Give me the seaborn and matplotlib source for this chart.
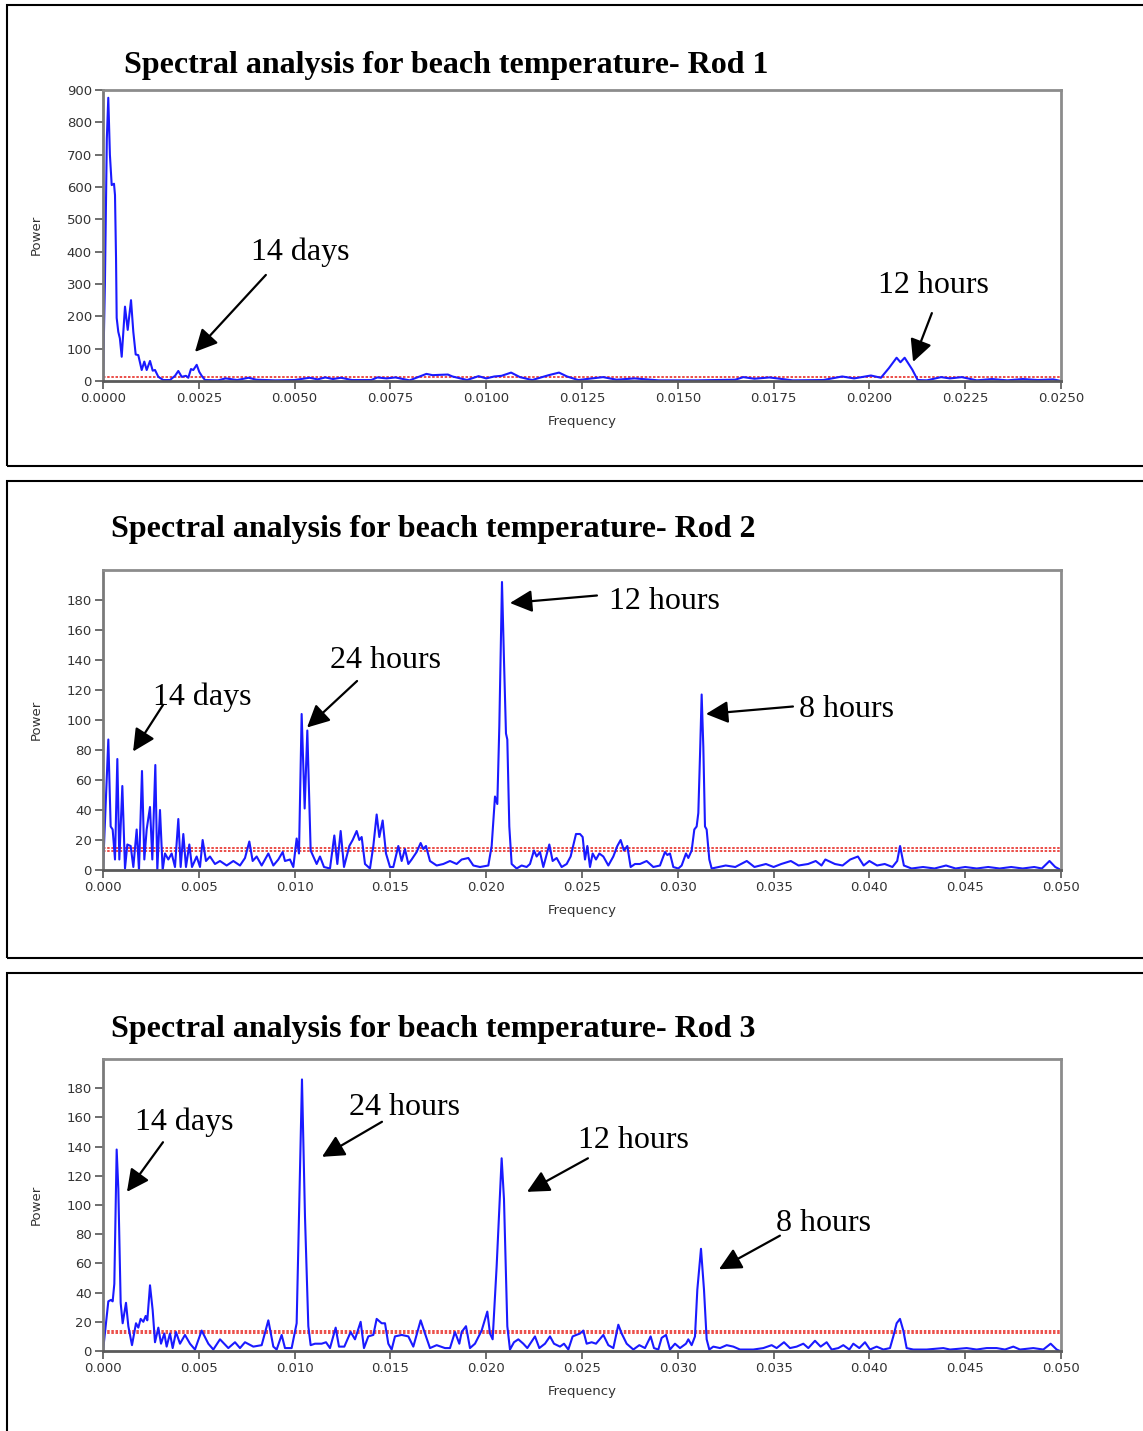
import numpy as np
import pandas as pd
import matplotlib
matplotlib.use("Agg")
import matplotlib.pyplot as plt
import seaborn as sns
from matplotlib.patches import Rectangle

# -------------------------------
# Data (frequency in units of 1e-3)
# -------------------------------
rod1_freq_milli = [0, 0.05, 0.10, 0.138, 0.18, 0.227, 0.287, 0.313, 0.34, 0.357, 0.399, 0.44, 0.488,
                   0.574, 0.645, 0.731, 0.791, 0.853, 0.921, 1.010, 1.078, 1.140, 1.227, 1.297, 1.357,
                   1.443, 1.574, 1.748, 1.879, 1.965, 2.054, 2.166, 2.226, 2.296, 2.356, 2.445, 2.513,
                   2.576, 2.662, 3.0, 3.2, 3.5, 3.8, 4.0, 4.5, 5.0, 5.39, 5.6, 5.8, 6.0, 6.21, 6.5,
                   7.0, 7.16, 7.4, 7.63, 8.0, 8.44, 8.6, 8.78, 9.0, 9.12, 9.5, 9.8, 10.0, 10.21, 10.4,
                   10.65, 10.88, 11.2, 11.63, 11.9, 12.11, 12.4, 13.05, 13.4, 13.87, 14.5, 15.5, 16.5,
                   16.71, 17.0, 17.39, 18.0, 18.8, 19.29, 19.6, 20.04, 20.3, 20.51, 20.71, 20.81, 20.92,
                   21.12, 21.26, 21.5, 21.87, 22.1, 22.41, 22.8, 23.2, 23.6, 24.0, 24.4, 24.8, 25.0]
rod1_power = [0, 300, 750, 876, 700, 606, 610, 575, 380, 195, 152, 132, 75,
              230, 158, 250, 152, 82, 80, 34, 60, 34, 62, 32, 34,
              13, 3, 3, 16, 31, 13, 16, 10, 37, 34, 50, 28,
              16, 3, 2, 8, 3, 10, 4, 2, 3, 10, 5, 11, 6, 10, 3,
              3, 11, 8, 11, 2, 22, 18, 19, 20, 14, 3, 15, 8, 14, 16,
              26, 12, 3, 18, 26, 14, 3, 12, 4, 8, 2, 2, 4,
              12, 7, 11, 2, 3, 14, 8, 17, 10, 40, 72, 58, 72,
              35, 3, 2, 12, 8, 12, 2, 6, 2, 6, 3, 5, 0]

rod2_freq_milli = [0.0, 0.278, 0.400, 0.504, 0.626, 0.748, 0.852, 1.009, 1.148, 1.270, 1.444, 1.583,
                   1.757, 1.878, 2.035, 2.157, 2.279, 2.453, 2.574, 2.731, 2.835, 2.974, 3.114, 3.235,
                   3.409, 3.583, 3.757, 3.931, 4.053, 4.192, 4.331, 4.505, 4.645, 4.888, 5.062, 5.201,
                   5.375, 5.584, 5.845, 6.106, 6.454, 6.802, 7.150, 7.411, 7.637, 7.811, 8.020, 8.281,
                   8.629, 8.890, 9.151, 9.377, 9.498, 9.759, 9.933, 10.107, 10.229, 10.368, 10.525,
                   10.664, 10.838, 10.977, 11.151, 11.325, 11.534, 11.847, 12.073, 12.230, 12.404,
                   12.578, 12.856, 13.030, 13.239, 13.378, 13.500, 13.674, 13.935, 14.109, 14.283,
                   14.422, 14.596, 14.770, 14.979, 15.152, 15.413, 15.587, 15.761, 15.935, 16.109,
                   16.370, 16.579, 16.718, 16.857, 17.066, 17.414, 17.762, 18.110, 18.458, 18.719,
                   19.067, 19.328, 19.676, 20.111, 20.285, 20.459, 20.580, 20.685, 20.824, 20.928,
                   21.032, 21.102, 21.206, 21.328, 21.589, 21.850, 22.111, 22.285, 22.494, 22.633,
                   22.807, 22.981, 23.294, 23.468, 23.677, 23.938, 24.199, 24.407, 24.686, 24.895,
                   25.034, 25.156, 25.278, 25.417, 25.556, 25.730, 25.904, 26.113, 26.374, 26.635,
                   26.843, 27.017, 27.191, 27.365, 27.539, 27.765, 28.026, 28.374, 28.722, 29.070,
                   29.331, 29.453, 29.592, 29.766, 30.027, 30.201, 30.427, 30.549, 30.723, 30.862,
                   30.984, 31.071, 31.158, 31.245, 31.332, 31.419, 31.506, 31.645, 31.767, 32.5,
                   33.0, 33.6, 34.0, 34.6, 35.0, 35.4, 35.9, 36.3, 36.8, 37.2, 37.5, 37.7, 38.2,
                   38.6, 39.0, 39.4, 39.7, 40.0, 40.4, 40.8, 41.2, 41.45, 41.6, 41.8, 42.2, 42.8,
                   43.4, 44.0, 44.5, 45.0, 45.6, 46.2, 46.8, 47.4, 48.0, 48.6, 49.0, 49.4, 49.7, 50.0]
rod2_power = [0, 87, 29, 27, 7, 74, 7, 56, 1, 17, 16, 2,
              27, 0, 66, 7, 27, 42, 7, 70, 0, 40, 0, 11,
              7, 11, 2, 34, 2, 24, 2, 17, 2, 9, 2, 20,
              6, 9, 4, 6, 3, 6, 3, 8, 19, 6, 9, 3,
              11, 3, 7, 12, 6, 7, 2, 21, 11, 104, 41,
              93, 13, 9, 4, 9, 2, 1, 23, 4, 26,
              2, 16, 20, 26, 20, 22, 4, 1, 16, 37,
              22, 33, 11, 2, 2, 16, 6, 14, 4, 7,
              12, 18, 14, 16, 6, 3, 4, 6, 4, 7,
              8, 3, 2, 3, 16, 49, 44, 96, 192, 140,
              91, 87, 29, 4, 1, 3, 2, 4, 13, 9,
              12, 2, 17, 6, 8, 2, 4, 9, 24, 24,
              22, 7, 16, 2, 11, 7, 11, 9, 3, 9,
              16, 20, 13, 16, 2, 4, 4, 6, 2, 3,
              12, 10, 11, 2, 1, 3, 11, 8, 13, 27,
              29, 38, 76, 117, 82, 29, 27, 7, 1, 3,
              2, 6, 2, 4, 2, 4, 6, 3, 4, 6, 3, 7, 4,
              3, 7, 9, 3, 6, 3, 4, 2, 6, 16, 3, 1, 2,
              1, 3, 1, 2, 1, 2, 1, 2, 1, 2, 1, 6, 2, 0]

rod3_freq_milli = [0.0, 0.156, 0.278, 0.417, 0.504, 0.591, 0.713, 0.800, 0.922, 1.026, 1.200, 1.322,
                   1.513, 1.722, 1.844, 1.965, 2.105, 2.226, 2.313, 2.453, 2.592, 2.714, 2.888, 3.027,
                   3.201, 3.322, 3.496, 3.636, 3.810, 4.018, 4.279, 4.540, 4.801, 5.149, 5.497, 5.758,
                   6.106, 6.541, 6.889, 7.150, 7.411, 7.846, 8.281, 8.629, 8.890, 9.064, 9.325, 9.498,
                   9.846, 10.107, 10.229, 10.385, 10.542, 10.716, 10.838, 11.064, 11.412, 11.638,
                   11.847, 12.143, 12.317, 12.595, 12.926, 13.152, 13.447, 13.621, 13.848, 14.109,
                   14.283, 14.544, 14.718, 14.891, 15.065, 15.239, 15.587, 15.935, 16.196, 16.579,
                   16.805, 17.066, 17.414, 17.849, 18.110, 18.371, 18.597, 18.719, 18.945, 19.154,
                   19.414, 19.762, 20.058, 20.197, 20.336, 20.545, 20.806, 20.928, 21.102, 21.241,
                   21.450, 21.676, 21.937, 22.146, 22.546, 22.773, 23.068, 23.329, 23.538, 23.851,
                   24.060, 24.286, 24.512, 24.895, 25.069, 25.243, 25.504, 25.730, 26.113, 26.374,
                   26.635, 26.896, 27.070, 27.331, 27.679, 27.992, 28.287, 28.583, 28.757, 28.983,
                   29.157, 29.383, 29.592, 29.853, 30.114, 30.427, 30.549, 30.723, 30.897, 31.019,
                   31.210, 31.367, 31.506, 31.645, 31.854, 32.202, 32.550, 32.898, 33.245, 33.941,
                   34.463, 34.898, 35.159, 35.542, 35.855, 36.203, 36.551, 36.812, 37.160, 37.456,
                   37.769, 38.030, 38.378, 38.639, 38.952, 39.160, 39.474, 39.770, 40.030, 40.378,
                   40.726, 41.074, 41.248, 41.422, 41.596, 41.770, 41.944, 42.292, 42.988, 43.858,
                   44.206, 45.075, 45.597, 46.119, 46.641, 47.076, 47.511, 47.859, 48.555, 49.077,
                   49.460, 49.773, 49.947]
rod3_power = [0, 19, 34, 35, 34, 46, 138, 111, 33, 19, 33, 17,
              4, 19, 16, 22, 20, 24, 21, 45, 28, 6, 16, 5,
              12, 3, 12, 2, 13, 5, 11, 5, 1, 14, 5, 1,
              8, 2, 6, 2, 6, 3, 4, 21, 3, 1, 11, 2,
              2, 19, 92, 186, 92, 17, 4, 5, 5, 6,
              2, 16, 3, 3, 13, 8, 20, 2, 10, 11,
              22, 19, 19, 5, 1, 10, 11, 10, 3, 21,
              12, 2, 4, 2, 2, 13, 5, 13, 17, 2,
              5, 14, 27, 12, 8, 58, 132, 104, 17, 1,
              6, 8, 5, 2, 10, 2, 5, 10, 5, 3,
              5, 1, 10, 12, 14, 5, 6, 5, 11, 4,
              2, 18, 12, 5, 1, 4, 2, 10, 2, 1,
              9, 11, 1, 5, 2, 5, 8, 4, 10, 42,
              70, 42, 8, 1, 3, 2, 4, 3, 1, 1,
              2, 4, 2, 6, 2, 3, 5, 2, 7, 3,
              6, 1, 2, 4, 1, 5, 2, 6, 1, 3,
              1, 2, 10, 19, 22, 14, 2, 1, 1, 2,
              1, 2, 1, 2, 2, 1, 3, 1, 2, 1,
              5, 1, 0]

# significance band levels
rod1_sig = [13]
rod2_sig = [12.5, 14.5]
rod3_sig = [12, 14]

titles = ["Spectral analysis for beach temperature- Rod 1",
          "Spectral analysis for beach temperature- Rod 2",
          "Spectral analysis for beach temperature- Rod 3"]

rod1_xticks = [0.0, 0.0025, 0.005, 0.0075, 0.01, 0.0125, 0.015, 0.0175, 0.02, 0.0225, 0.025]
rod1_xlabels = ["0.0000", "0.0025", "0.0050", "0.0075", "0.0100", "0.0125", "0.0150",
                "0.0175", "0.0200", "0.0225", "0.0250"]
rod23_xticks = [0.0, 0.005, 0.01, 0.015, 0.02, 0.025, 0.03, 0.035, 0.04, 0.045, 0.05]
rod23_xlabels = ["0.000", "0.005", "0.010", "0.015", "0.020", "0.025", "0.030",
                 "0.035", "0.040", "0.045", "0.050"]
rod1_yticks = [0, 100, 200, 300, 400, 500, 600, 700, 800, 900]
rod23_yticks = [0, 20, 40, 60, 80, 100, 120, 140, 160, 180]

# annotations: (label, text xy, arrow start, arrow tip)
rod1_notes = [("14 days", (0.00514, 399), (0.00425, 328), (0.0024, 90)),
              ("12 hours", (0.02166, 294), (0.02163, 210), (0.02114, 59))]
rod2_notes = [("14 days", (0.00517, 115), (0.00313, 110), (0.00157, 79)),
              ("24 hours", (0.01472, 140), (0.01326, 126), (0.01065, 95)),
              ("12 hours", (0.02928, 179), (0.02578, 183), (0.02124, 178)),
              ("8 hours", (0.03883, 107), (0.03601, 109), (0.03147, 104))]
rod3_notes = [("14 days", (0.00423, 157), (0.00313, 143), (0.00125, 109)),
              ("24 hours", (0.01576, 167), (0.01456, 157), (0.01143, 133)),
              ("12 hours", (0.02766, 144), (0.02531, 132), (0.02213, 109)),
              ("8 hours", (0.03763, 87), (0.03533, 79), (0.03215, 56))]

# -------------------------------
# Figure
# -------------------------------
sns.set_style("white")
plt.rcParams['font.family'] = ['DejaVu Sans']
plt.rcParams['text.color'] = 'black'

W, H = 1143, 1431
fig = plt.figure(figsize=(W / 100, H / 100), dpi=100)


def fx(px):
    return px / W


def fy(py):
    return 1 - py / H


panels = [
    dict(freq=rod1_freq_milli, power=rod1_power, sig=rod1_sig, title=titles[0],
         xticks=rod1_xticks, xlabels=rod1_xlabels, yticks=rod1_yticks,
         xlim=0.025, ylim=900, notes=rod1_notes,
         ax_top=90, ax_bot=381, box=(5, 466), title_xy=(124, 65), label_y=(235, 421)),
    dict(freq=rod2_freq_milli, power=rod2_power, sig=rod2_sig, title=titles[1],
         xticks=rod23_xticks, xlabels=rod23_xlabels, yticks=rod23_yticks,
         xlim=0.05, ylim=200, notes=rod2_notes,
         ax_top=570, ax_bot=870, box=(481, 958), title_xy=(111, 530), label_y=(720, 911)),
    dict(freq=rod3_freq_milli, power=rod3_power, sig=rod3_sig, title=titles[2],
         xticks=rod23_xticks, xlabels=rod23_xlabels, yticks=rod23_yticks,
         xlim=0.05, ylim=200, notes=rod3_notes,
         ax_top=1059, ax_bot=1351, box=(973, 1445), title_xy=(111, 1029), label_y=(1205, 1391)),
]

for p in panels:
    # outer black frame of each screenshot
    top, bot = p["box"]
    fig.patches.append(Rectangle((fx(7), fy(bot)), fx(1150 - 7), (bot - top) / H,
                                 transform=fig.transFigure, fill=False,
                                 edgecolor="black", linewidth=1.5))

    ax = fig.add_axes([fx(103), fy(p["ax_bot"]), fx(1061 - 103), (p["ax_bot"] - p["ax_top"]) / H])
    df = pd.DataFrame({"Frequency": np.array(p["freq"]) * 1e-3, "Power": p["power"]})
    sns.lineplot(data=df, x="Frequency", y="Power", ax=ax, color="#1a1aff", linewidth=1.5)

    for lvl in p["sig"]:
        ax.axhline(lvl, color="#e8302a", linestyle=(0, (1.5, 1)), linewidth=1.2, zorder=1)

    ax.set_xlim(0, p["xlim"])
    ax.set_ylim(0, p["ylim"])
    ax.set_xticks(p["xticks"])
    ax.set_xticklabels(p["xlabels"])
    ax.set_yticks(p["yticks"])
    ax.set_xlabel("")
    ax.set_ylabel("")
    ax.tick_params(axis="both", direction="out", length=6, width=1.2, color="#555555",
                   labelsize=9.5, labelcolor="#333333", pad=2)
    ax.tick_params(axis="x", bottom=True)
    ax.tick_params(axis="y", left=True)

    for side in ["top", "right"]:
        ax.spines[side].set_color("#8c8c8c")
        ax.spines[side].set_linewidth(2)
    ax.spines["left"].set_color("#7a7a7a")
    ax.spines["left"].set_linewidth(2)
    ax.spines["bottom"].set_color("#5a5a5a")
    ax.spines["bottom"].set_linewidth(2)

    for label, txt, start, tip in p["notes"]:
        ax.text(txt[0], txt[1], label, fontsize=23, family="Liberation Serif",
                color="black", ha="center", va="center")
        ax.annotate("", xy=tip, xytext=start,
                    arrowprops=dict(arrowstyle="-|>,head_length=0.9,head_width=0.45",
                                    color="black", lw=1.6, mutation_scale=15,
                                    shrinkA=0, shrinkB=0))

    tx, ty = p["title_xy"]
    fig.text(fx(tx), fy(ty), p["title"], fontsize=23, fontweight="bold",
             family="Liberation Serif", color="black", ha="left", va="center")
    ly, fq = p["label_y"]
    fig.text(fx(36), fy(ly), "Power", rotation=90, fontsize=9.5, color="#333333",
             ha="center", va="center")
    fig.text(fx(582), fy(fq), "Frequency", fontsize=9.5, color="#333333",
             ha="center", va="center")

fig.savefig("out.png", dpi=100)
